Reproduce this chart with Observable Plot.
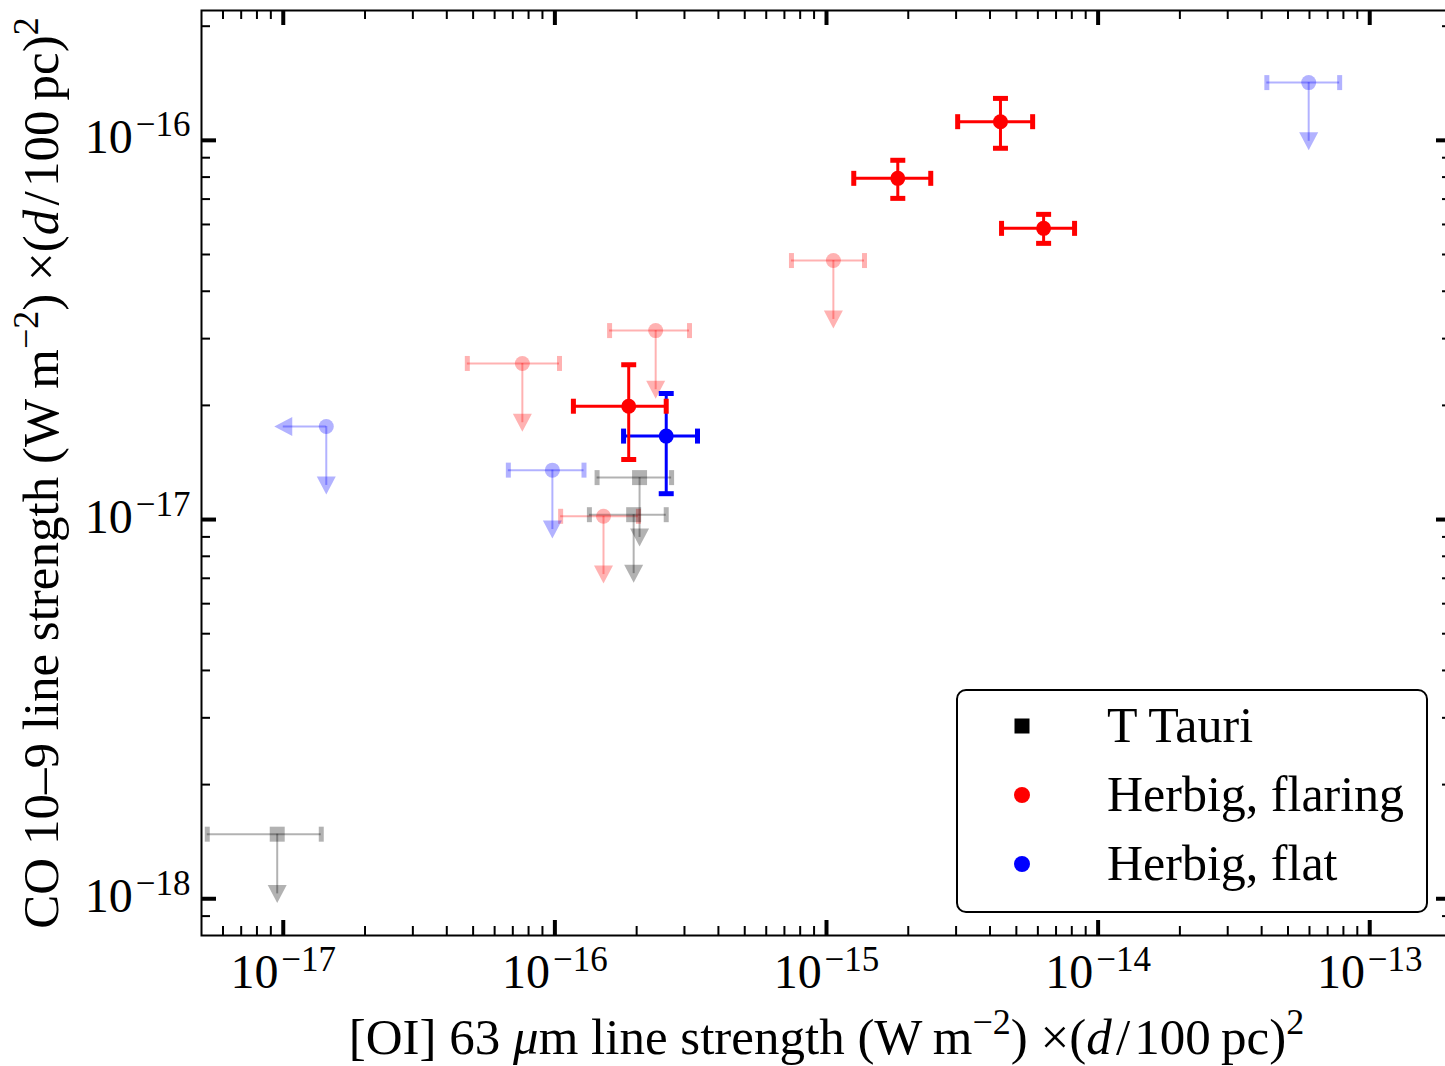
<!DOCTYPE html>
<html><head><meta charset="utf-8">
<script src="https://cdn.jsdelivr.net/npm/d3@7"></script>
<script src="https://cdn.jsdelivr.net/npm/@observablehq/plot@0.6"></script>
<style>html,body{margin:0;padding:0;background:#fff;overflow:hidden;width:1445px;height:1066px}
#chart svg{max-width:none !important;height:1066px !important}</style>
</head><body><div id="chart"></div>
<script>
// ---------- data ----------
const groups = ["T Tauri", "Herbig, flaring", "Herbig, flat"];
const groupColors = ["black", "red", "blue"];

// detections (both lines detected, with error bars)
const detGroup = ["Herbig, flaring", "Herbig, flaring", "Herbig, flaring", "Herbig, flaring", "Herbig, flat"];
const detOI   = [1.83e-15, 4.37e-15, 6.30e-15, 1.87e-16, 2.57e-16];
const detOIlo = [1.26e-15, 3.04e-15, 4.41e-15, 1.17e-16, 1.79e-16];
const detOIhi = [2.42e-15, 5.74e-15, 8.19e-15, 2.57e-16, 3.35e-16];
const detCO   = [7.94e-17, 1.12e-16, 5.86e-17, 1.99e-17, 1.66e-17];
const detCOlo = [7.03e-17, 9.53e-17, 5.35e-17, 1.44e-17, 1.17e-17];
const detCOhi = [8.86e-17, 1.29e-16, 6.38e-17, 2.56e-17, 2.15e-17];

// CO upper limits (faded symbols)
const limGroup = ["T Tauri", "T Tauri", "T Tauri",
  "Herbig, flaring", "Herbig, flaring", "Herbig, flaring", "Herbig, flaring",
  "Herbig, flat", "Herbig, flat", "Herbig, flat"];
const limOI    = [9.50e-18, 2.05e-16, 1.95e-16, 1.06e-15, 2.35e-16, 7.59e-17, 1.51e-16, 5.96e-14, 9.79e-17, 1.44e-17];
const limOIlo  = [5.25e-18, 1.43e-16, 1.34e-16, 7.43e-16, 1.59e-16, 4.76e-17, 1.05e-16, 4.18e-14, 6.74e-17, null];
const limOIhi  = [1.38e-17, 2.69e-16, 2.57e-16, 1.38e-15, 3.13e-16, 1.04e-16, 2.03e-16, 7.75e-14, 1.28e-16, null];
const limOIend = [null, null, null, null, null, null, null, null, null, 1.00e-17];
const limCO    = [1.48e-18, 1.29e-17, 1.03e-17, 4.82e-17, 3.15e-17, 2.58e-17, 1.02e-17, 1.42e-16, 1.35e-17, 1.76e-17];
const limCOend = [1.03e-18, 8.97e-18, 7.20e-18, 3.37e-17, 2.20e-17, 1.80e-17, 7.16e-18, 9.94e-17, 9.41e-18, 1.23e-17];

// axes
const xDomain = [5e-18, 2e-13];
const yDomain = [8e-19, 2.2e-16];
const xMajor = [1e-17, 1e-16, 1e-15, 1e-14, 1e-13];
const xMajorExp = ["−17", "−16", "−15", "−14", "−13"];
const yMajor = [1e-18, 1e-17, 1e-16];
const yMajorExp = ["−18", "−17", "−16"];
const xMinor = [6e-18, 7e-18, 8e-18, 9e-18,
  2e-17, 3e-17, 4e-17, 5e-17, 6e-17, 7e-17, 8e-17, 9e-17,
  2e-16, 3e-16, 4e-16, 5e-16, 6e-16, 7e-16, 8e-16, 9e-16,
  2e-15, 3e-15, 4e-15, 5e-15, 6e-15, 7e-15, 8e-15, 9e-15,
  2e-14, 3e-14, 4e-14, 5e-14, 6e-14, 7e-14, 8e-14, 9e-14];
const yMinor = [9e-19,
  2e-18, 3e-18, 4e-18, 5e-18, 6e-18, 7e-18, 8e-18, 9e-18,
  2e-17, 3e-17, 4e-17, 5e-17, 6e-17, 7e-17, 8e-17, 9e-17, 2e-16];

const xLabelSegs = [{t: "[OI] 63 "}, {t: "μ", it: true}, {t: "m line strength (W\u2009m"}, {t: "−2", sup: true},
  {t: ") ×("}, {t: "d", it: true}, {t: "\u200a/\u200a100\u2009pc)"}, {t: "2", sup: true}];
const yLabelSegs = [{t: "CO 10–9 line strength (W\u2009m"}, {t: "−2", sup: true},
  {t: ") ×("}, {t: "d", it: true}, {t: "\u200a/\u200a100\u2009pc)"}, {t: "2", sup: true}];

// ---------- layout ----------
const W = 1452, H = 1066;
const mL = 201, mR = 1, mT = 10, mB = 131;
const fw = W - mL - mR, fh = H - mT - mB;
const FONT = "'Liberation Serif', 'DejaVu Serif', serif";
const colorOf = Object.fromEntries(groups.map((g, i) => [g, groupColors[i]]));

const det = detGroup.map((g, i) => ({group: g, c: colorOf[g], oi: detOI[i], oiLo: detOIlo[i], oiHi: detOIhi[i],
  co: detCO[i], coLo: detCOlo[i], coHi: detCOhi[i]}));
const lim = limGroup.map((g, i) => ({group: g, c: colorOf[g], oi: limOI[i], oiLo: limOIlo[i], oiHi: limOIhi[i],
  oiEnd: limOIend[i], co: limCO[i], coEnd: limCOend[i]}));
const limErr = lim.filter(d => d.oiLo != null);
const limXlim = lim.filter(d => d.oiEnd != null);

// symbols (fixed pixel sizes)
const capH = {draw(c) { c.rect(-7.5, -2.5, 15, 5); }};
const capV = {draw(c) { c.rect(-2.5, -7.5, 5, 15); }};
const circ = {draw(c) { c.moveTo(7.5, 0); c.arc(0, 0, 7.5, 0, 2 * Math.PI); c.closePath(); }};
const sq = {draw(c) { c.rect(-7.5, -7.5, 15, 15); }};
const triDown = {draw(c) { c.moveTo(0, 9); c.lineTo(-9.5, -9); c.lineTo(9.5, -9); c.closePath(); }};
const triLeft = {draw(c) { c.moveTo(-9, 0); c.lineTo(9, -9.5); c.lineTo(9, 9.5); c.closePath(); }};

const A = 0.3;
const marks = [
  // upper limits (faded)
  Plot.ruleY(limErr, {y: "co", x1: "oiLo", x2: "oiHi", stroke: "c", strokeWidth: 2, strokeOpacity: A}),
  Plot.ruleY(limXlim, {y: "co", x1: "oi", x2: "oiEnd", stroke: "c", strokeWidth: 2, strokeOpacity: A}),
  Plot.ruleX(lim, {x: "oi", y1: "co", y2: "coEnd", stroke: "c", strokeWidth: 2, strokeOpacity: A}),
  Plot.dot(limErr, {x: "oiLo", y: "co", symbol: capV, fill: "c", stroke: "none", fillOpacity: A}),
  Plot.dot(limErr, {x: "oiHi", y: "co", symbol: capV, fill: "c", stroke: "none", fillOpacity: A}),
  Plot.dot(lim, {x: "oi", y: "coEnd", symbol: triDown, fill: "c", stroke: "none", fillOpacity: A}),
  Plot.dot(limXlim, {x: "oiEnd", y: "co", symbol: triLeft, fill: "c", stroke: "none", fillOpacity: A}),
  Plot.dot(lim.filter(d => d.group === "T Tauri"), {x: "oi", y: "co", symbol: sq, fill: "c", stroke: "none", fillOpacity: A}),
  Plot.dot(lim.filter(d => d.group !== "T Tauri"), {x: "oi", y: "co", symbol: circ, fill: "c", stroke: "none", fillOpacity: A}),
  // detections
  Plot.ruleY(det, {y: "co", x1: "oiLo", x2: "oiHi", stroke: "c", strokeWidth: 3}),
  Plot.ruleX(det, {x: "oi", y1: "coLo", y2: "coHi", stroke: "c", strokeWidth: 3}),
  Plot.dot(det, {x: "oiLo", y: "co", symbol: capV, fill: "c", stroke: "none"}),
  Plot.dot(det, {x: "oiHi", y: "co", symbol: capV, fill: "c", stroke: "none"}),
  Plot.dot(det, {x: "oi", y: "coLo", symbol: capH, fill: "c", stroke: "none"}),
  Plot.dot(det, {x: "oi", y: "coHi", symbol: capH, fill: "c", stroke: "none"}),
  Plot.dot(det, {x: "oi", y: "co", symbol: circ, fill: "c", stroke: "none"}),
  // inward ticks, all four sides
  Plot.ruleX(xMajor, {x: d => d, insetTop: fh - 15, stroke: "black", strokeWidth: 4}),
  Plot.ruleX(xMajor, {x: d => d, insetBottom: fh - 15, stroke: "black", strokeWidth: 4}),
  Plot.ruleX(xMinor, {x: d => d, insetTop: fh - 9, stroke: "black", strokeWidth: 2}),
  Plot.ruleX(xMinor, {x: d => d, insetBottom: fh - 9, stroke: "black", strokeWidth: 2}),
  Plot.ruleY(yMajor, {y: d => d, insetRight: fw - 15, stroke: "black", strokeWidth: 4}),
  Plot.ruleY(yMajor, {y: d => d, insetLeft: fw - 15, stroke: "black", strokeWidth: 4}),
  Plot.ruleY(yMinor, {y: d => d, insetRight: fw - 9, stroke: "black", strokeWidth: 2}),
  Plot.ruleY(yMinor, {y: d => d, insetLeft: fw - 9, stroke: "black", strokeWidth: 2}),
  Plot.frame({stroke: "black", strokeWidth: 2}),
  // tick labels
  Plot.text(xMajor, {x: d => d, frameAnchor: "bottom", dy: 52, lineAnchor: "bottom", textAnchor: "middle",
    text: (d, i) => "10|" + xMajorExp[i], fontSize: 48, fill: "black"}),
  Plot.text(yMajor, {y: d => d, frameAnchor: "left", dx: -11, dy: 13, lineAnchor: "bottom", textAnchor: "end",
    text: (d, i) => "10|" + yMajorExp[i], fontSize: 48, fill: "black"}),
  // axis labels
  Plot.text([0], {frameAnchor: "bottom", dy: 118, lineAnchor: "bottom", textAnchor: "middle",
    text: () => "@xlabel", fontSize: 51, fill: "black"}),
  Plot.text([0], {frameAnchor: "left", dx: -144, rotate: -90, lineAnchor: "bottom", textAnchor: "middle",
    text: () => "@ylabel", fontSize: 51, fill: "black"})
];

const svg = Plot.plot({
  width: W, height: H,
  marginLeft: mL, marginRight: mR, marginTop: mT, marginBottom: mB,
  x: {type: "log", domain: xDomain, axis: null},
  y: {type: "log", domain: yDomain, axis: null},
  color: {type: "identity"},
  style: {fontFamily: FONT, background: "white", color: "black", maxWidth: "none"},
  marks
});
svg.style.maxWidth = "none";
document.getElementById("chart").appendChild(svg);

// ---------- rich text (superscripts / italics) ----------
const NS = "http://www.w3.org/2000/svg";
function setRich(el, segs, supSize, rise) {
  el.textContent = "";
  let raised = false;
  for (const s of segs) {
    const ts = document.createElementNS(NS, "tspan");
    ts.textContent = s.t;
    if (s.it) ts.setAttribute("font-style", "italic");
    if (s.sup) {
      ts.setAttribute("font-size", supSize);
      if (!raised) { ts.setAttribute("dy", -rise); raised = true; }
    } else if (raised) {
      ts.setAttribute("dy", rise); raised = false;
    }
    el.appendChild(ts);
  }
}
svg.querySelectorAll("text").forEach(el => {
  const s = el.textContent;
  if (s.includes("|")) {
    const [base, exp] = s.split("|");
    setRich(el, [{t: base}, {t: "\u200a" + exp, sup: true}], 35, 17);
  } else if (s === "@xlabel") setRich(el, xLabelSegs, 36, 20);
  else if (s === "@ylabel") setRich(el, yLabelSegs, 36, 20);
});

// ---------- legend ----------
const lg = d3.select(svg).append("g").attr("font-family", FONT).attr("text-anchor", "start");
lg.append("rect").attr("x", 957).attr("y", 690).attr("width", 470).attr("height", 222).attr("rx", 9)
  .attr("fill", "white").attr("stroke", "black").attr("stroke-width", 2);
const rowY = [726, 795, 864];
groups.forEach((g, i) => {
  if (i === 0) lg.append("rect").attr("x", 1022 - 7.5).attr("y", rowY[i] - 7.5).attr("width", 15).attr("height", 15).attr("fill", groupColors[i]);
  else lg.append("circle").attr("cx", 1022).attr("cy", rowY[i]).attr("r", 8).attr("fill", groupColors[i]);
  lg.append("text").attr("x", 1107).attr("y", rowY[i] + 16).attr("font-size", 50).attr("fill", "black")
    .attr("text-anchor", "start").text(g);
});
</script></body></html>
